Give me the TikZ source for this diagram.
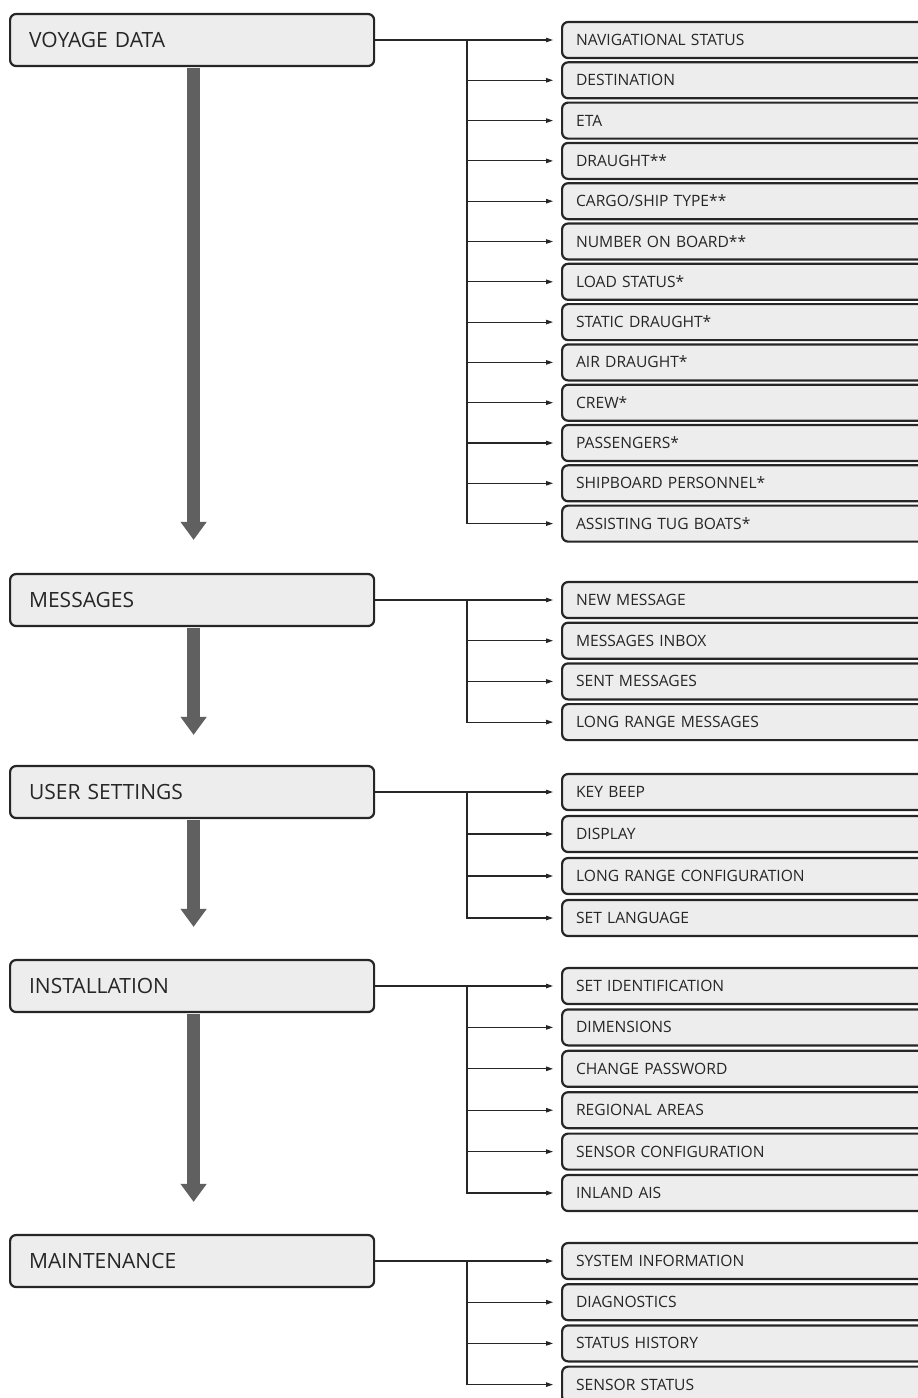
\documentclass[tikz,border=0pt]{standalone}
\usepackage{fontspec}
\setmainfont{Open Sans}
\usetikzlibrary{positioning,calc}
\usetikzlibrary{arrows.meta}

\definecolor{boxfill}{HTML}{EDEDED}
\definecolor{boxline}{HTML}{262626}
\definecolor{flowgrey}{HTML}{606060}

\tikzset{
  menu/.style={draw=boxline,line width=2.2pt,fill=boxfill,rounded corners=6pt,
    anchor=west,minimum width=364pt,minimum height=52pt,inner xsep=19pt,
    text width=326pt,align=left,text height=15pt,text depth=0pt,
    font=\fontsize{21}{24}\selectfont,text=black!85},
  item/.style={draw=boxline,line width=2.2pt,fill=boxfill,rounded corners=6pt,
    anchor=west,minimum height=36pt,inner xsep=14pt,
    text width=346pt,align=left,text height=11.1pt,text depth=0pt,
    font=\fontsize{15.6}{18}\selectfont,text=black!85},
  link/.style={draw=black!85,line width=1.1pt,shorten >=8pt,
    -{Triangle[length=7pt,width=4.5pt]}},
  flow/.style={draw=flowgrey,line width=13.5pt,shorten <=1.1pt,
    -{Triangle[length=18pt,width=25pt]}},
}

\begin{document}
\begin{tikzpicture}[x=1pt,y=-1pt]
  \useasboundingbox (0,0) rectangle (918,1398);

  % main menu
  \node (voyage) at (9,40) [menu] {VOYAGE DATA};
  \node (messages) at (9,600) [menu] {MESSAGES};
  \node (user) at (9,792) [menu] {USER SETTINGS};
  \node (install) at (9,986) [menu] {INSTALLATION};
  \node (maint) at (9,1261) [menu] {MAINTENANCE};

  % sub menus
  \foreach \n/\t [count=\i from 0] in {navstat/NAVIGATIONAL STATUS,dest/DESTINATION,
      eta/ETA,draught/DRAUGHT**,cargo/{CARGO/SHIP TYPE**},onboard/NUMBER ON BOARD**,
      load/LOAD STATUS*,static/STATIC DRAUGHT*,air/AIR DRAUGHT*,crew/CREW*,
      pass/PASSENGERS*,personnel/SHIPBOARD PERSONNEL*,tug/ASSISTING TUG BOATS*}
    \node (\n) at (561,40+\i*40.3) [item] {\t};

  \foreach \n/\t [count=\i from 0] in {newmsg/NEW MESSAGE,inbox/MESSAGES INBOX,
      sent/SENT MESSAGES,lrmsg/LONG RANGE MESSAGES}
    \node (\n) at (561,600+\i*40.7) [item] {\t};

  \foreach \n/\t [count=\i from 0] in {beep/KEY BEEP,display/DISPLAY,
      lrconf/LONG RANGE CONFIGURATION,lang/SET LANGUAGE}
    \node (\n) at (561,792+\i*42) [item] {\t};

  \foreach \n/\t [count=\i from 0] in {ident/SET IDENTIFICATION,dim/DIMENSIONS,
      passwd/CHANGE PASSWORD,areas/REGIONAL AREAS,sensconf/SENSOR CONFIGURATION,
      inland/INLAND AIS}
    \node (\n) at (561,986+\i*41.4) [item] {\t};

  \foreach \n/\t [count=\i from 0] in {sysinfo/SYSTEM INFORMATION,diag/DIAGNOSTICS,
      history/STATUS HISTORY,sensstat/SENSOR STATUS}
    \node (\n) at (561,1261+\i*41.2) [item] {\t};

  % branches
  \coordinate (voyagefork) at (467,40);
  \coordinate (messagesfork) at (467,600);
  \coordinate (userfork) at (467,792);
  \coordinate (installfork) at (467,986);
  \coordinate (maintfork) at (467,1261);

  \draw[link] (voyage.east) -- (navstat.west);
  \foreach \n in {dest,eta,draught,cargo,onboard,load,static,air,crew,pass,personnel,tug}
    \draw[link] (voyagefork) |- (\n.west);

  \draw[link] (messages.east) -- (newmsg.west);
  \foreach \n in {inbox,sent,lrmsg}
    \draw[link] (messagesfork) |- (\n.west);

  \draw[link] (user.east) -- (beep.west);
  \foreach \n in {display,lrconf,lang}
    \draw[link] (userfork) |- (\n.west);

  \draw[link] (install.east) -- (ident.west);
  \foreach \n in {dim,passwd,areas,sensconf,inland}
    \draw[link] (installfork) |- (\n.west);

  \draw[link] (maint.east) -- (sysinfo.west);
  \foreach \n in {diag,history,sensstat}
    \draw[link] (maintfork) |- (\n.west);

  % flow between main menus
  \draw[flow] ([xshift=1.5pt]voyage.south) -- ([xshift=1.5pt,yshift=33pt]messages.north);
  \draw[flow] ([xshift=1.5pt]messages.south) -- ([xshift=1.5pt,yshift=30pt]user.north);
  \draw[flow] ([xshift=1.5pt]user.south) -- ([xshift=1.5pt,yshift=32pt]install.north);
  \draw[flow] ([xshift=1.5pt]install.south) -- ([xshift=1.5pt,yshift=32pt]maint.north);
\end{tikzpicture}
\end{document}
